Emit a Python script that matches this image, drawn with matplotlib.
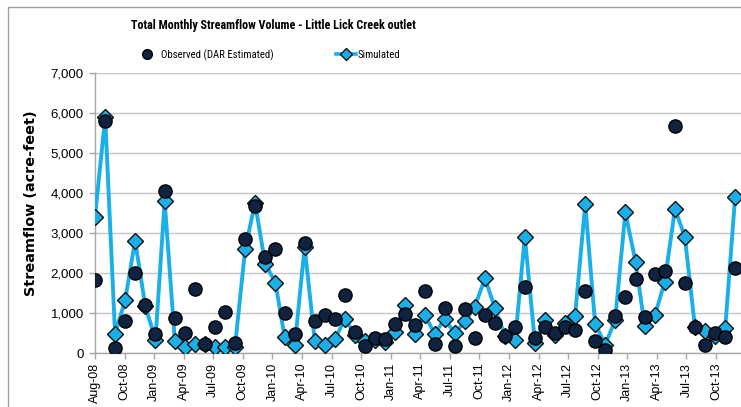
import os
import matplotlib
matplotlib.use("Agg")
import matplotlib.pyplot as plt
from matplotlib import font_manager
from matplotlib.font_manager import FontProperties
from matplotlib.lines import Line2D
from matplotlib.patches import Rectangle
from matplotlib.ticker import FuncFormatter
import pandas as pd

plt.rcParams['font.family'] = ['Liberation Sans', 'DejaVu Sans']

# ---- data ----
start_month = "2008-08-01"
n_months = 65
observed = [1830, 5800, 120, 800, 2000, 1200, 480, 4050, 870, 500,
            1610, 230, 640, 1030, 250, 2850, 3670, 2400, 2600, 1010,
            480, 2750, 810, 950, 860, 1450, 530, 180, 380, 350,
            720, 980, 700, 1540, 230, 1120, 180, 1100, 380, 950,
            750, 420, 640, 1660, 380, 640, 510, 640, 570, 1560,
            310, 80, 930, 1400, 1860, 890, 1970, 2060, 5680, 1760,
            640, 190, 500, 390, 2120]
simulated = [3400, 5900, 480, 1330, 2810, 1180, 330, 3800, 300, 160,
             230, 220, 150, 150, 150, 2600, 3750, 2230, 1760, 400,
             200, 2650, 290, 200, 350, 850, 450, 290, 330, 280,
             515, 1210, 480, 955, 480, 848, 499, 788, 1162, 1870,
             1122, 415, 332, 2910, 250, 814, 457, 750, 930, 3724,
             731, 207, 830, 3517, 2285, 665, 938, 1786, 3600, 2910,
             640, 540, 415, 623, 3891]
tick_start = "2008-08-01"
tick_count = 22
tick_step_days = 90
y_ticks = [0, 1000, 2000, 3000, 4000, 5000, 6000, 7000]
title = "Total Monthly Streamflow Volume - Little Lick Creek outlet"
ylabel = "Streamflow (acre-feet)"
obs_label = "Observed (DAR Estimated)"
sim_label = "Simulated"

dates = pd.date_range(start_month, periods=n_months, freq="MS")
tick_dates = pd.date_range(tick_start, periods=tick_count, freq=f"{tick_step_days}D")
tick_labels = [d.strftime("%b-%y") for d in tick_dates]


def narrow_font(weight):
    cands = [("Liberation Sans Narrow", "normal"), ("Arial Narrow", "normal"),
             ("Roboto Condensed", "normal"), ("DejaVu Sans", "condensed"),
             ("Open Sans", "condensed"), ("Noto Sans", "condensed"),
             ("Roboto", "condensed")]
    for fam, stretch in cands:
        fp = FontProperties(family=fam, stretch=stretch, weight=weight)
        try:
            path = font_manager.findfont(fp, fallback_to_default=False)
        except Exception:
            continue
        base = os.path.basename(path).lower()
        if "narrow" in base or "condensed" in base or "cond" in base:
            return dict(family=[fam], stretch=stretch)
    return dict(family=["Liberation Sans", "DejaVu Sans"])


title_kw = narrow_font("bold")
legend_kw = narrow_font("normal")

LINE_BLUE = "#1AAFE8"
NAVY = "#0F2341"
GRID = "#C6C6C6"

W, H = 741, 407
fig = plt.figure(figsize=(W / 100, H / 100), dpi=100)
fig.patch.set_facecolor("white")
renderer = fig.canvas.get_renderer()


def fit_width(txt, target_px, horizontal=True):
    bb = txt.get_window_extent(renderer)
    cur = bb.width if horizontal else bb.height
    txt.set_fontsize(txt.get_fontsize() * target_px / cur)


# outer chart border
fig.patches.append(Rectangle((8 / W, -0.05), 1.2, 1 - 7 / H + 0.05,
                             transform=fig.transFigure, fill=False,
                             edgecolor="#A0A0A0", linewidth=1.0))

ax = fig.add_axes([95 / W, 1 - 353 / H, (W - 95) / W, (353 - 73) / H])

ax.plot(dates, simulated, color=LINE_BLUE, linewidth=2.8, marker="D",
        markersize=8.5, markerfacecolor=LINE_BLUE, markeredgecolor="#111111",
        markeredgewidth=1.0, zorder=3)
ax.plot(dates, observed, linestyle="none", marker="o", markersize=9.5,
        markerfacecolor=NAVY, markeredgecolor="#000000", markeredgewidth=1.0,
        zorder=4)

ax.set_ylim(0, 7000)
ax.set_yticks(y_ticks)
ax.yaxis.set_major_formatter(FuncFormatter(lambda v, p: f"{v:,.0f}"))
x0 = pd.Timestamp(tick_start)
ax.set_xlim(x0, x0 + pd.Timedelta(days=1966))
ax.set_xticks(tick_dates)
ax.set_xticklabels(tick_labels, rotation=90)

ax.grid(axis="y", color=GRID, linewidth=1.0)
ax.set_axisbelow(True)
for s in ["top", "right"]:
    ax.spines[s].set_visible(False)
for s in ["left", "bottom"]:
    ax.spines[s].set_color("#A6A6A6")
    ax.spines[s].set_linewidth(1.0)
ax.tick_params(axis="both", colors="#A6A6A6", length=4, width=1.0,
               labelcolor="#000000", labelsize=9.5)
ax.tick_params(axis="x", pad=3, labelsize=9)
ax.tick_params(axis="y", pad=4)

# y label
yl = fig.text(31 / W, 1 - 203 / H, ylabel, rotation=90, ha="center", va="center",
              fontsize=10, fontweight="bold", family=["DejaVu Sans"])
fit_width(yl, 185, horizontal=False)

tt = fig.text(273 / W, 1 - 25 / H, title, ha="center", va="center",
              fontsize=10, fontweight="bold", **title_kw)
fit_width(tt, 285)

# legend text size fitted to reference width
probe = fig.text(0, 0, obs_label, fontsize=10, **legend_kw)
fit_width(probe, 111)
l_size = probe.get_fontsize()
probe.remove()
legend_font = FontProperties(size=l_size, **legend_kw)

h_obs = Line2D([], [], linestyle="none", marker="o", markersize=7,
               markerfacecolor=NAVY, markeredgecolor="#000000")
h_sim = Line2D([], [], color=LINE_BLUE, linewidth=2.6, marker="D",
               markersize=6, markerfacecolor=LINE_BLUE, markeredgecolor="#111111")
fig.legend([h_obs], [obs_label], loc="center left",
           bbox_to_anchor=(136 / W, 1 - 55 / H), frameon=False,
           prop=legend_font, handlelength=2.0, handletextpad=0.3,
           borderaxespad=0, borderpad=0)
fig.legend([h_sim], [sim_label], loc="center left",
           bbox_to_anchor=(336 / W, 1 - 55 / H), frameon=False,
           prop=legend_font, handlelength=1.9, handletextpad=0.1,
           borderaxespad=0, borderpad=0)

fig.savefig("out.png", dpi=100)
